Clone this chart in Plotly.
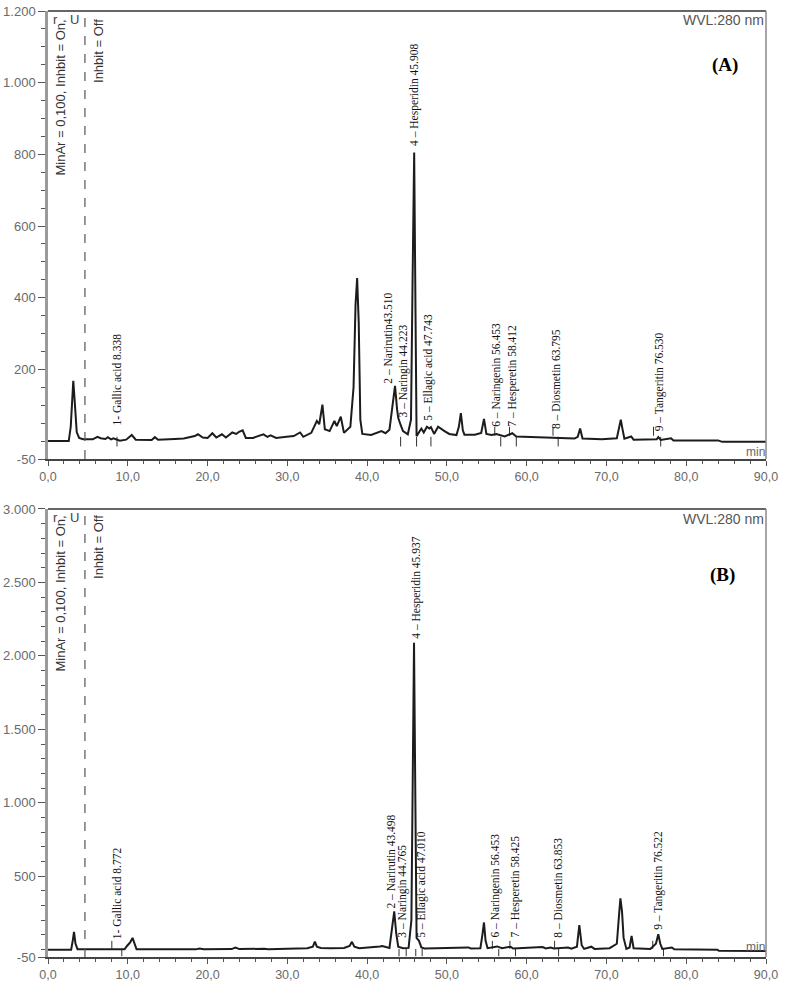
import plotly.graph_objects as go

# ---------------- DATA ----------------
# Panel A chromatogram: retention time (min) and signal (mAU)
time_A = [0.0, 2.6, 2.85, 3.05, 3.17, 3.35, 3.6, 3.9, 4.4, 5.6, 6.2, 6.6, 7.2, 7.5, 7.9, 8.2,
          9.0, 9.8, 10.5, 11.0, 13.0, 13.4, 13.8, 15.9, 17.0, 18.4, 18.8, 19.4, 20.0, 20.6,
          21.1, 21.8, 22.3, 23.1, 23.6, 23.95, 24.4, 24.8, 25.7, 27.0, 27.5, 27.9, 28.6, 29.9,
          30.8, 31.6, 32.0, 33.0, 33.7, 34.0, 34.4, 34.7, 35.3, 35.9, 36.2, 36.7, 37.1, 37.9,
          38.3, 38.55, 38.75, 38.95, 39.15, 39.4, 40.5, 41.8, 42.3, 42.8, 43.2, 43.5, 43.75,
          43.9, 44.2, 44.5, 45.1, 45.5, 45.7, 45.9, 46.05, 46.2, 46.8, 47.1, 47.5, 47.8, 48.0,
          48.4, 48.9, 49.3, 49.7, 50.3, 51.2, 51.5, 51.75, 52.0, 52.2, 53.5, 54.3, 54.65, 54.95,
          55.6, 56.2, 57.25, 58.2, 58.7, 61.0, 63.5, 66.0, 66.4, 66.7, 67.0, 69.4, 71.3, 71.6,
          71.8, 72.0, 72.25, 73.1, 73.4, 76.3, 76.5, 76.8, 78.1, 78.4, 84.0, 84.5, 90.0]
abs_A = [0, 0, 40, 150, 168, 110, 25, 9, 5, 5, 12, 8, 6, 11, 5, 8,
         1, 4, 17, 4, 3, 11, 4, 6, 7, 14, 19, 10, 9, 22,
         10, 19, 10, 24, 20, 26, 30, 9, 9, 19, 12, 16, 9, 12,
         14, 24, 12, 23, 56, 47, 102, 33, 28, 56, 42, 68, 23, 40,
         150, 380, 455, 330, 60, 20, 17, 28, 22, 32, 110, 154, 90,
         65, 45, 28, 19, 60, 450, 805, 400, 14, 35, 24, 40, 35, 39,
         20, 40, 35, 28, 20, 17, 40, 78, 30, 18, 18, 23, 62, 20,
         17, 20, 13, 22, 13, 11, 9, 7, 12, 35, 7, 5, 8, 35,
         60, 35, 7, 13, 4, 5, 11, 3, 8, 2, 2, -2, -2]

# Panel B chromatogram
time_B = [0.0, 2.9, 3.1, 3.26, 3.45, 3.7, 7.9, 9.6, 9.9, 10.3, 10.6, 10.85, 11.1, 18.5, 19.0,
          19.5, 23.0, 23.5, 24.0, 27.1, 27.6, 30.0, 32.5, 33.2, 33.45, 33.7, 34.2, 35.4, 37.1,
          37.8, 38.1, 38.4, 39.0, 41.6, 41.9, 42.8, 43.1, 43.4, 43.65, 43.9, 44.5, 45.2, 45.55,
          45.7, 45.88, 46.05, 46.2, 46.5, 46.8, 47.2, 52.7, 53.0, 54.2, 54.45, 54.65, 54.85,
          55.1, 56.3, 56.9, 58.0, 58.3, 62.0, 62.4, 63.0, 63.4, 65.2, 65.6, 66.3, 66.6, 66.9,
          67.2, 68.1, 68.5, 70.4, 70.9, 71.3, 71.6, 71.75, 71.95, 72.15, 72.5, 72.9, 73.15,
          73.4, 75.5, 76.2, 76.5, 76.75, 77.0, 78.2, 78.5, 83.9, 84.1, 90.0]
abs_B = [0, 0, 60, 121, 40, 3, 3, 2, 25, 50, 80, 40, 3, 2, 8,
         3, 4, 14, 4, 6, 3, 6, 10, 20, 55, 20, 12, 10, 12,
         25, 53, 20, 10, 22, 25, 12, 120, 260, 110, 20, 10, 12, 200,
         1200, 2090, 1000, 80, 60, 15, 8, 15, 8, 10, 100, 185, 60,
         10, 22, 10, 20, 8, 18, 8, 14, 8, 15, 6, 20, 167, 30,
         5, 20, 5, 10, 25, 40, 250, 349, 260, 80, 5, 15, 94,
         10, 5, 40, 105, 40, 5, 15, 3, 0, -8, -10]

# Peak identification labels
labels_A = ["1- Gallic acid 8.338", "2 – Narirutin43.510", "3 – Naringin 44.223",
            "4 – Hesperidin 45.908", "5 – Ellagic acid 47.743", "6 – Naringenin 56.453",
            "7 – Hesperetin 58.412", "8 – Diosmetin 63.795", "9 – Tangeritin 76.530"]
labels_B = ["1- Gallic acid 8.772", "2 – Narirutin 43.498", "3 – Naringin 44.765",
            "4 – Hesperidin 45.937", "5 – Ellagic acid 47.010", "6 – Naringenin 56.453",
            "7 – Hesperetin 58.425", "8 – Diosmetin 63.853", "9 – Tangeritin 76.522"]

# Peak delimiter marks (retention times)
marks_down_A = [8.65, 44.2, 46.2, 48.0, 56.75, 58.7, 63.95, 76.8]
marks_up_A = [56.0, 57.85, 63.3, 75.9]
marks_down_B = [9.25, 44.0, 44.9, 46.1, 46.9, 56.5, 58.6, 64.0, 77.15]
marks_up_B = [8.0, 55.7, 57.9, 63.5, 75.8]

# Axis ticks
x_tick_vals = [0, 10, 20, 30, 40, 50, 60, 70, 80, 90]
x_tick_text = ["0,0", "10,0", "20,0", "30,0", "40,0", "50,0", "60,0", "70,0", "80,0", "90,0"]
y_tick_vals_A = [-50, 200, 400, 600, 800, 1000, 1200]
y_tick_text_A = ["-50", "200", "400", "600", "800", "1.000", "1.200"]
y_tick_vals_B = [-50, 500, 1000, 1500, 2000, 2500, 3000]
y_tick_text_B = ["-50", "500", "1.000", "1.500", "2.000", "2.500", "3.000"]
inhibit_time = 4.63

# ---------------- LAYOUT / STYLE ----------------
# label anchor positions (x in min, y in mAU) for the rotated peak texts
label_pos_A = [(8.6, 37), (42.66, 154), (44.59, 61), (45.93, 819), (47.68, 51),
               (56.27, 34), (58.26, 34), (63.68, 28), (76.58, 23)]
label_pos_B = [(8.69, 60), (42.97, 265), (44.4, 66), (46.2, 2100), (46.8, 66),
               (56.1, 66), (58.6, 66), (63.9, 66), (76.5, 120)]

LINE = "#1c1c1c"
TICKC = "#555555"
TICKFONT = dict(family="Liberation Sans, Arial", size=13, color="#6a6a6a")
XTICKFONT = dict(family="Liberation Sans, Arial", size=12.5, color="#6a6a6a")
SERIF = "Liberation Serif, Times New Roman"
SANS = "Liberation Sans, Arial"

fig = go.Figure()


def marks_trace(down, up, lo_d, hi_d, lo_u, hi_u, xa, ya):
    xs, ys = [], []
    for t in down:
        xs += [t, t, None]
        ys += [hi_d, lo_d, None]
    for t in up:
        xs += [t, t, None]
        ys += [lo_u, hi_u, None]
    return go.Scatter(x=xs, y=ys, mode="lines", line=dict(color="#333333", width=1),
                      xaxis=xa, yaxis=ya, hoverinfo="skip", showlegend=False)


fig.add_trace(marks_trace(marks_down_A, marks_up_A, -15, 12, 15, 40, "x", "y"))
fig.add_trace(marks_trace(marks_down_B, marks_up_B, -45, 5, 5, 60, "x2", "y2"))

fig.add_trace(go.Scatter(x=time_A, y=abs_A, mode="lines", line=dict(color=LINE, width=2),
                         xaxis="x", yaxis="y", showlegend=False, hoverinfo="skip"))
fig.add_trace(go.Scatter(x=time_B, y=abs_B, mode="lines", line=dict(color=LINE, width=2),
                         xaxis="x2", yaxis="y2", showlegend=False, hoverinfo="skip"))

xaxis_common = dict(range=[0, 90], tickmode="array", tickvals=x_tick_vals, ticktext=x_tick_text,
                    ticks="outside", ticklen=5, tickwidth=1, tickcolor=TICKC,
                    minor=dict(tickmode="linear", tick0=0, dtick=2, ticks="outside", ticklen=3,
                               tickcolor=TICKC, tickwidth=1),
                    showline=True, linecolor="#444444", linewidth=1.5, showgrid=False,
                    zeroline=False, tickfont=XTICKFONT, domain=[0, 1], fixedrange=True,
                    automargin=False)
yaxis_common = dict(ticks="outside", ticklen=7, tickwidth=1, tickcolor=TICKC,
                    showline=True, linecolor="#9a9a9a", linewidth=2.5, showgrid=False,
                    zeroline=False, tickfont=TICKFONT, fixedrange=True, tickmode="array",
                    automargin=False)

fig.update_layout(
    width=787, height=981, autosize=False,
    margin=dict(l=48, r=21, t=11, b=24, pad=0),
    paper_bgcolor="white", plot_bgcolor="white",
    showlegend=False,
    xaxis=dict(**xaxis_common, anchor="y"),
    yaxis=dict(**yaxis_common, range=[-50, 1200], tickvals=y_tick_vals_A, ticktext=y_tick_text_A,
               minor=dict(tickmode="linear", tick0=0, dtick=50, ticks="outside", ticklen=4,
                          tickcolor=TICKC, tickwidth=1),
               domain=[0.5264, 1], anchor="x"),
    xaxis2=dict(**xaxis_common, anchor="y2"),
    yaxis2=dict(**yaxis_common, range=[-50, 3000], tickvals=y_tick_vals_B, ticktext=y_tick_text_B,
                minor=dict(tickmode="linear", tick0=0, dtick=100, ticks="outside", ticklen=4,
                           tickcolor=TICKC, tickwidth=1),
                domain=[0, 0.4736], anchor="x2"),
)

shapes = []
annotations = []
for xs, ys, xd, yd, panel in (("x", "y", "x domain", "y domain", "A"),
                              ("x2", "y2", "x2 domain", "y2 domain", "B")):
    # top border and right border
    shapes.append(dict(type="line", xref=xd, yref=yd, x0=0, x1=1, y0=1, y1=1,
                       line=dict(color="#333333", width=1.5)))
    shapes.append(dict(type="line", xref=xd, yref=yd, x0=1, x1=1, y0=0, y1=1,
                       line=dict(color="#8a8a8a", width=1.5)))
    # inhibit dashed line
    shapes.append(dict(type="line", xref=xs, yref=yd, x0=inhibit_time, x1=inhibit_time, y0=0, y1=1,
                       line=dict(color="#555555", width=1.2, dash="dash")))
    top_r = 0.982 if panel == "A" else 0.98
    annotations += [
        dict(text="r", xref=xd, yref=yd, x=0.004, y=top_r, xanchor="left", yanchor="middle",
             showarrow=False, font=dict(family=SANS, size=13, color="#444444")),
        dict(text="U", xref=xd, yref=yd, x=0.0376, y=top_r, xanchor="center", yanchor="middle",
             showarrow=False, font=dict(family=SANS, size=13, color="#444444")),
        dict(text="MinAr = 0,100, Inhbit = On,", xref=xd, yref=yd, x=0.0174,
             y=0.9866 if panel == "A" else 0.991, xanchor="center", yanchor="top", textangle=-90,
             showarrow=False, font=dict(family=SANS, size=13, color="#333333")),
        dict(text="Inhbit = Off", xref=xd, yref=yd, x=0.0696,
             y=0.9866 if panel == "A" else 0.991, xanchor="center", yanchor="top", textangle=-90,
             showarrow=False, font=dict(family=SANS, size=13, color="#333333")),
        dict(text="WVL:280 nm", xref=xd, yref=yd, x=1.0, y=0.98 if panel == "A" else 0.978,
             xanchor="right", yanchor="middle", showarrow=False,
             font=dict(family=SANS, size=14, color="#555555")),
        dict(text="<b>(%s)</b>" % panel, xref=xd, yref=yd, x=0.9429 if panel == "A" else 0.940,
             y=0.879 if panel == "A" else 0.853, xanchor="center", yanchor="middle",
             showarrow=False, font=dict(family=SERIF, size=19, color="#000000")),
        dict(text="min", xref=xd, yref=yd, x=0.985, y=0.0156 if panel == "A" else 0.022,
             xanchor="center", yanchor="middle", showarrow=False,
             font=dict(family=SANS, size=12, color="#666666")),
    ]
    labs = labels_A if panel == "A" else labels_B
    pos = label_pos_A if panel == "A" else label_pos_B
    for text, (lx, ly) in zip(labs, pos):
        annotations.append(dict(text=text, xref=xs, yref=ys, x=lx, y=ly, xanchor="center",
                                yanchor="bottom", textangle=-90, showarrow=False,
                                font=dict(family=SERIF, size=11.5, color="#111111")))

fig.update_layout(shapes=shapes, annotations=annotations)
fig.write_html("out.html", config={"displayModeBar": False},
               post_script="document.body.style.margin='0';document.body.style.overflow='hidden';")
